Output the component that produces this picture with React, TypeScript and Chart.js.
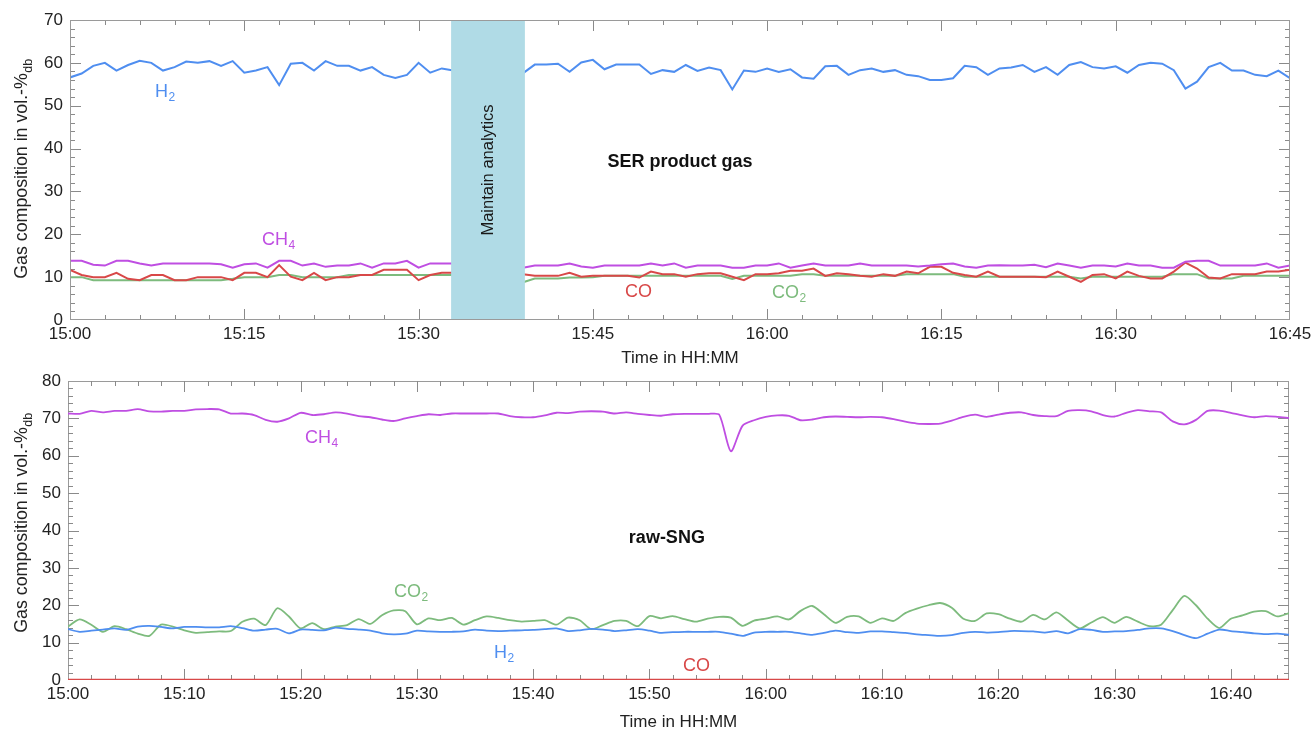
import React, { useEffect, useRef } from 'react';
import { Chart, registerables } from 'chart.js';

Chart.register(...registerables);

const FONT = '"Liberation Sans", Arial, Helvetica, sans-serif';

// ---------- SER product gas (top), one value per minute from 15:00 (index = minutes after 15:00) ----------
const topH2 = [
  56.6, 57.5, 59.3, 60.0, 58.2, 59.5, 60.5, 60.0, 58.2, 59.0,
  60.3, 60.0, 60.4, 59.3, 60.4, 57.7, 58.2, 59.0, 54.8, 59.8,
  60.0, 58.2, 60.4, 59.3, 59.3, 58.2, 59.0, 57.2, 56.5, 57.2,
  60.0, 57.7, 58.7, 58.2, null, null, null, null, null, 57.6,
  59.6, 59.6, 59.8, 57.9, 60.1, 60.7, 58.5, 59.6, 59.6, 59.6,
  57.4, 58.3, 57.9, 59.5, 58.1, 58.9, 58.3, 53.8, 58.2, 57.9,
  58.7, 57.9, 58.5, 56.6, 56.3, 59.2, 59.3, 57.2, 58.3, 58.7,
  57.9, 58.3, 57.2, 56.9, 56.0, 56.0, 56.4, 59.3, 59.0, 57.2,
  58.7, 58.9, 59.5, 57.9, 59.0, 57.2, 59.5, 60.2, 59.0, 58.7,
  59.2, 57.7, 59.5, 60.0, 59.8, 58.3, 54.0, 55.6, 59.0, 60.0,
  58.2, 58.2, 57.2, 56.9, 58.2, 56.4,
];
const topCH4 = [
  13.8, 13.8, 12.9, 12.7, 13.8, 13.8, 13.2, 12.7, 13.2, 13.2,
  13.2, 13.2, 13.2, 13.0, 12.2, 13.0, 13.2, 12.2, 13.8, 13.8,
  12.7, 13.2, 12.4, 12.7, 12.7, 13.2, 12.2, 13.2, 13.2, 13.8,
  12.2, 13.2, 13.2, 13.2, null, null, null, null, null, 12.2,
  12.7, 12.7, 12.7, 13.2, 12.5, 12.2, 12.7, 12.7, 12.7, 12.7,
  13.2, 12.7, 13.2, 12.2, 12.7, 12.7, 12.7, 12.2, 12.2, 12.7,
  12.7, 13.2, 12.2, 12.7, 13.2, 12.7, 12.7, 12.7, 13.2, 12.7,
  12.7, 12.7, 12.7, 12.5, 12.7, 13.0, 13.2, 12.5, 12.2, 12.7,
  12.8, 12.7, 12.7, 12.9, 12.3, 13.2, 12.7, 12.2, 12.7, 12.7,
  12.5, 13.2, 12.7, 12.7, 12.2, 12.2, 13.6, 13.8, 13.8, 12.7,
  12.7, 12.7, 12.7, 13.2, 12.2, 12.7,
];
const topCO = [
  11.7, 10.5, 10.0, 10.0, 11.0, 9.6, 9.3, 10.5, 10.5, 9.3,
  9.3, 10.0, 10.0, 10.0, 9.3, 11.0, 11.0, 10.0, 12.8, 10.1,
  9.3, 11.0, 9.3, 10.0, 10.0, 10.5, 10.5, 11.7, 11.7, 11.7,
  9.3, 10.5, 11.0, 11.0, null, null, null, null, null, 10.7,
  10.3, 10.3, 10.3, 11.0, 10.1, 10.3, 10.3, 10.3, 10.3, 9.9,
  11.3, 10.7, 10.7, 10.1, 10.7, 10.9, 10.9, 10.1, 9.3, 10.7,
  10.7, 10.9, 11.5, 11.5, 12.0, 10.3, 10.9, 10.7, 10.3, 10.1,
  10.7, 10.3, 11.3, 10.9, 12.4, 12.4, 11.0, 10.5, 10.1, 11.3,
  10.1, 10.1, 10.1, 10.1, 10.0, 11.3, 10.1, 8.9, 10.5, 10.7,
  9.7, 11.3, 10.3, 9.7, 9.7, 11.3, 13.4, 12.0, 9.9, 9.7,
  10.7, 10.7, 10.7, 11.3, 11.3, 11.7,
];
const topCO2 = [
  10.0, 10.0, 9.3, 9.3, 9.3, 9.3, 9.3, 9.3, 9.3, 9.3,
  9.3, 9.3, 9.3, 9.3, 9.6, 10.0, 10.0, 10.0, 10.5, 10.5,
  10.0, 10.0, 10.0, 10.0, 10.5, 10.5, 10.5, 10.5, 10.5, 10.5,
  10.5, 10.5, 10.5, 10.5, null, null, null, null, null, 8.8,
  9.7, 9.7, 9.7, 9.9, 9.9, 10.0, 10.3, 10.3, 10.3, 10.3,
  10.3, 10.3, 10.3, 10.3, 10.3, 10.3, 10.3, 9.6, 10.3, 10.3,
  10.3, 10.3, 10.3, 10.7, 10.7, 10.3, 10.3, 10.3, 10.3, 10.3,
  10.3, 10.3, 10.7, 10.7, 10.7, 10.7, 10.7, 10.1, 10.1, 10.1,
  10.1, 10.1, 10.1, 10.1, 10.1, 10.1, 10.1, 9.7, 10.1, 10.1,
  10.1, 10.1, 10.1, 10.1, 10.1, 10.7, 10.7, 10.7, 9.7, 9.7,
  9.7, 10.3, 10.3, 10.3, 10.3, 10.3,
];
// analytics maintenance window, minutes after 15:00
const maintenanceWindow = [32.8, 39.15];

// ---------- raw-SNG (bottom), one value per minute from 15:00 ----------
const botCH4 = [
  71.3, 71.2, 72.0, 71.6, 72.0, 72.0, 72.5, 71.9, 71.8, 72.0,
  72.0, 72.4, 72.5, 72.4, 71.3, 71.3, 70.9, 69.6, 69.1, 70.0,
  71.5, 70.9, 71.1, 71.6, 71.3, 70.6, 70.3, 69.7, 69.3, 70.0,
  70.6, 71.1, 70.9, 71.3, 71.3, 71.3, 71.3, 71.3, 70.6, 70.3,
  70.3, 70.8, 71.5, 71.4, 71.8, 71.9, 71.8, 71.3, 71.6, 71.2,
  70.9, 70.7, 71.1, 71.2, 71.2, 71.2, 71.0, 61.2, 68.0, 69.5,
  70.4, 70.8, 70.7, 69.5, 69.7, 70.3, 70.5, 70.4, 70.3, 70.4,
  70.3, 69.8, 69.1, 68.6, 68.5, 68.6, 69.4, 70.4, 71.0, 70.4,
  71.0, 71.5, 71.6, 70.9, 70.6, 70.6, 72.0, 72.2, 71.9, 70.9,
  70.5, 71.5, 72.2, 71.9, 71.6, 69.2, 68.4, 69.6, 72.0, 72.1,
  71.5, 70.8, 70.3, 70.6, 70.4, 70.1,
];
const botCO2 = [
  14.3, 16.2, 14.8, 12.9, 14.4, 13.6, 12.4, 11.8, 14.8, 14.3,
  13.3, 12.6, 12.8, 13.0, 13.1, 15.6, 16.4, 14.7, 19.2, 17.0,
  13.8, 15.2, 13.6, 14.3, 14.7, 16.3, 15.0, 17.3, 18.6, 18.4,
  14.9, 16.5, 16.0, 16.6, 14.8, 16.0, 17.0, 16.6, 16.0, 15.6,
  15.8, 16.0, 14.8, 16.7, 16.0, 13.6, 14.7, 15.8, 15.8, 14.4,
  17.1, 16.5, 17.1, 16.3, 15.6, 16.4, 16.9, 16.7, 14.5, 15.9,
  16.4, 17.0, 16.2, 18.5, 19.8, 17.6, 15.3, 16.9, 17.0, 15.3,
  16.5, 15.8, 17.9, 19.1, 20.0, 20.6, 19.3, 16.4, 15.8, 17.8,
  17.6, 16.4, 15.6, 17.4, 16.2, 18.1, 15.9, 13.8, 15.4, 16.8,
  15.3, 16.9, 15.6, 14.4, 14.8, 18.7, 22.5, 20.0, 16.4, 13.9,
  16.4, 17.3, 18.3, 18.4, 17.0, 17.9,
];
const botH2 = [
  13.6, 12.9, 13.2, 13.5, 13.8, 13.4, 14.3, 14.5, 14.2, 13.8,
  14.2, 14.2, 14.1, 14.1, 14.4, 13.9, 13.2, 13.5, 13.7, 12.5,
  13.5, 13.4, 13.3, 14.0, 13.7, 13.5, 13.2, 12.5, 12.2, 12.4,
  13.2, 13.0, 12.9, 12.9, 13.0, 13.5, 13.2, 13.1, 13.2, 13.3,
  13.4, 13.6, 13.8, 13.1, 13.3, 13.7, 13.5, 13.1, 13.3, 13.6,
  13.2, 12.6, 12.8, 12.9, 12.9, 12.9, 12.9, 12.4, 11.8, 12.7,
  12.9, 12.9, 12.9, 12.5, 12.1, 12.6, 13.2, 12.8, 12.6, 13.0,
  13.0, 12.8, 12.6, 12.2, 12.0, 11.8, 12.0, 12.6, 12.9, 12.7,
  12.8, 13.1, 13.1, 13.0, 12.7, 13.1, 12.5, 13.6, 13.4, 12.9,
  13.0, 13.1, 13.4, 13.8, 13.8, 13.1, 12.0, 11.2, 12.4, 13.5,
  13.1, 12.8, 12.5, 12.3, 12.4, 12.1,
];
const botCO = [
  0.1, 0.1, 0.1, 0.1, 0.1, 0.1, 0.1, 0.1, 0.1, 0.1,
  0.1, 0.1, 0.1, 0.1, 0.1, 0.1, 0.1, 0.1, 0.1, 0.1,
  0.1, 0.1, 0.1, 0.1, 0.1, 0.1, 0.1, 0.1, 0.1, 0.1,
  0.1, 0.1, 0.1, 0.1, 0.1, 0.1, 0.1, 0.1, 0.1, 0.1,
  0.1, 0.1, 0.1, 0.1, 0.1, 0.1, 0.1, 0.1, 0.1, 0.1,
  0.1, 0.1, 0.1, 0.1, 0.1, 0.1, 0.1, 0.1, 0.1, 0.1,
  0.1, 0.1, 0.1, 0.1, 0.1, 0.1, 0.1, 0.1, 0.1, 0.1,
  0.1, 0.1, 0.1, 0.1, 0.1, 0.1, 0.1, 0.1, 0.1, 0.1,
  0.1, 0.1, 0.1, 0.1, 0.1, 0.1, 0.1, 0.1, 0.1, 0.1,
  0.1, 0.1, 0.1, 0.1, 0.1, 0.1, 0.1, 0.1, 0.1, 0.1,
  0.1, 0.1, 0.1, 0.1, 0.1, 0.1,
];

const COLORS = { H2: '#4f8ef0', CH4: '#bf4ee2', CO: '#d84848', CO2: '#7dbb7d' };

type Label = { main: string; sub?: string; t: number; v: number; color: string };

type Spec = {
  series: { label: string; values: (number | null)[]; color: string }[];
  yMax: number;
  xMajor: number; xMinor: number; yMajor: number; yMinor: number;
  padTop: number; padRight: number; yAxisWidth: number; xAxisHeight: number;
  tension: number; lineWidth: number;
  labels: Label[];
  title: { text: string; t: number; v: number };
  band?: { from: number; to: number; text: string };
  yTitleCenter: number; xTitleBaseline: number;
};

function fmtTime(v: number) {
  const m = 15 * 60 + Math.round(v);
  return `${Math.floor(m / 60)}:${String(m % 60).padStart(2, '0')}`;
}

function drawFrame(ctx: CanvasRenderingContext2D, a: any) {
  ctx.save();
  ctx.strokeStyle = '#9a9a9a';
  ctx.lineWidth = 1;
  ctx.strokeRect(Math.round(a.left) + 0.5, Math.round(a.top) + 0.5, Math.round(a.right - a.left) - 1, Math.round(a.bottom - a.top) - 1);
  ctx.restore();
}

function drawTicks(chart: any, s: Spec) {
  const { ctx, chartArea: a, scales } = chart;
  const xs = scales.x, ys = scales.y;
  ctx.save();
  ctx.strokeStyle = '#8a8a8a';
  ctx.lineWidth = 1;
  ctx.beginPath();
  const xr = s.xMajor / s.xMinor;
  for (let i = 1; i * s.xMinor < 105; i++) {
    const px = Math.round(xs.getPixelForValue(i * s.xMinor)) + 0.5;
    const len = i % xr === 0 ? 11 : 5;
    ctx.moveTo(px, a.bottom); ctx.lineTo(px, a.bottom - len);
    ctx.moveTo(px, a.top); ctx.lineTo(px, a.top + len);
  }
  const yr = s.yMajor / s.yMinor;
  for (let i = 1; i * s.yMinor < s.yMax; i++) {
    const py = Math.round(ys.getPixelForValue(i * s.yMinor)) + 0.5;
    const len = i % yr === 0 ? 11 : 5;
    ctx.moveTo(a.left, py); ctx.lineTo(a.left + len, py);
    ctx.moveTo(a.right, py); ctx.lineTo(a.right - len, py);
  }
  ctx.stroke();
  ctx.restore();
}

function drawChem(ctx: CanvasRenderingContext2D, l: Label, px: number, py: number) {
  ctx.fillStyle = l.color;
  ctx.textAlign = 'left';
  ctx.textBaseline = 'alphabetic';
  ctx.font = `18px ${FONT}`;
  ctx.fillText(l.main, px, py);
  if (l.sub) {
    const w = ctx.measureText(l.main).width;
    ctx.font = `12px ${FONT}`;
    ctx.fillText(l.sub, px + w + 0.5, py + 4);
  }
}

function makeDeco(s: Spec) {
  return {
    id: 'deco',
    beforeDatasetsDraw(chart: any) {
      drawFrame(chart.ctx, chart.chartArea);
      drawTicks(chart, s);
    },
    afterDatasetsDraw(chart: any) {
      const { ctx, chartArea: a, scales } = chart;
      const xs = scales.x, ys = scales.y;
      ctx.save();
      if (s.band) {
        const x0 = xs.getPixelForValue(s.band.from);
        const x1 = xs.getPixelForValue(s.band.to);
        ctx.fillStyle = '#b0dbe6';
        ctx.fillRect(x0, a.top, x1 - x0, a.bottom - a.top);
        drawFrame(ctx, a);
        ctx.save();
        ctx.translate((x0 + x1) / 2, (a.top + a.bottom) / 2);
        ctx.rotate(-Math.PI / 2);
        ctx.fillStyle = '#1a1a1a';
        ctx.font = `16.5px ${FONT}`;
        ctx.textAlign = 'center';
        ctx.textBaseline = 'middle';
        ctx.fillText(s.band.text, 0, 0);
        ctx.restore();
      }
      for (const l of s.labels) {
        drawChem(ctx, l, xs.getPixelForValue(l.t), ys.getPixelForValue(l.v));
      }
      // panel title
      ctx.fillStyle = '#111';
      ctx.font = `bold 18px ${FONT}`;
      ctx.textAlign = 'center';
      ctx.textBaseline = 'alphabetic';
      ctx.fillText(s.title.text, xs.getPixelForValue(s.title.t), ys.getPixelForValue(s.title.v));
      // x axis title
      ctx.fillStyle = '#222';
      ctx.font = `17px ${FONT}`;
      ctx.fillText('Time in HH:MM', (a.left + a.right) / 2, s.xTitleBaseline);
      // y axis title with subscript
      ctx.save();
      ctx.translate(27, s.yTitleCenter);
      ctx.rotate(-Math.PI / 2);
      const main = 'Gas composition in vol.-%';
      ctx.font = `17.8px ${FONT}`;
      const w1 = ctx.measureText(main).width;
      ctx.font = `12.5px ${FONT}`;
      const w2 = ctx.measureText('db').width;
      const start = -(w1 + w2) / 2;
      ctx.textAlign = 'left';
      ctx.font = `17.8px ${FONT}`;
      ctx.fillText(main, start, 0);
      ctx.font = `12.5px ${FONT}`;
      ctx.fillText('db', start + w1 + 0.5, 5);
      ctx.restore();
      ctx.restore();
    },
  };
}

function buildConfig(s: Spec): any {
  return {
    type: 'line',
    data: {
      datasets: s.series.map((se) => ({
        label: se.label,
        data: se.values.map((y, i) => ({ x: i, y })),
        borderColor: se.color,
        backgroundColor: se.color,
        borderWidth: s.lineWidth,
        pointRadius: 0,
        tension: s.tension,
        spanGaps: false,
        fill: false,
      })),
    },
    options: {
      responsive: false,
      animation: false,
      devicePixelRatio: 1,
      events: [],
      layout: { padding: { top: s.padTop, right: s.padRight, left: 0, bottom: 0 } },
      plugins: { legend: { display: false }, tooltip: { enabled: false }, title: { display: false } },
      scales: {
        x: {
          type: 'linear', min: 0, max: 105,
          grid: { display: false, drawTicks: false },
          border: { display: false },
          ticks: {
            stepSize: s.xMajor, includeBounds: false, autoSkip: false, maxRotation: 0, minRotation: 0,
            padding: 4, color: '#222', font: { size: 17, family: FONT },
            callback: (v: any) => (Number(v) % s.xMajor === 0 ? fmtTime(Number(v)) : ''),
          },
          afterFit: (sc: any) => { sc.height = s.xAxisHeight; sc.paddingLeft = 0; sc.paddingRight = 0; },
        },
        y: {
          min: 0, max: s.yMax,
          grid: { display: false, drawTicks: false },
          border: { display: false },
          ticks: { stepSize: s.yMajor, padding: 7, color: '#222', font: { size: 17, family: FONT } },
          afterFit: (sc: any) => { sc.width = s.yAxisWidth; sc.paddingTop = 0; sc.paddingBottom = 0; },
        },
      },
    },
    plugins: [makeDeco(s)],
  };
}

const topSpec: Spec = {
  series: [
    { label: 'H2', values: topH2, color: COLORS.H2 },
    { label: 'CH4', values: topCH4, color: COLORS.CH4 },
    { label: 'CO', values: topCO, color: COLORS.CO },
    { label: 'CO2', values: topCO2, color: COLORS.CO2 },
  ],
  yMax: 70, xMajor: 15, xMinor: 3, yMajor: 10, yMinor: 2,
  padTop: 20, padRight: 22, yAxisWidth: 70, xAxisHeight: 45,
  tension: 0, lineWidth: 2,
  labels: [
    { main: 'H', sub: '2', t: 7.32, v: 52.0, color: COLORS.H2 },
    { main: 'CH', sub: '4', t: 16.52, v: 17.5, color: COLORS.CH4 },
    { main: 'CO', t: 47.77, v: 5.37, color: COLORS.CO },
    { main: 'CO', sub: '2', t: 60.42, v: 5.13, color: COLORS.CO2 },
  ],
  title: { text: 'SER product gas', t: 52.5, v: 35.7 },
  band: { from: maintenanceWindow[0], to: maintenanceWindow[1], text: 'Maintain analytics' },
  yTitleCenter: 169, xTitleBaseline: 363,
};

const botSpec: Spec = {
  series: [
    { label: 'CO', values: botCO, color: COLORS.CO },
    { label: 'H2', values: botH2, color: COLORS.H2 },
    { label: 'CH4', values: botCH4, color: COLORS.CH4 },
    { label: 'CO2', values: botCO2, color: COLORS.CO2 },
  ],
  yMax: 80, xMajor: 10, xMinor: 2, yMajor: 10, yMinor: 2,
  padTop: 16, padRight: 23, yAxisWidth: 68, xAxisHeight: 49,
  tension: 0.25, lineWidth: 1.8,
  labels: [
    { main: 'CH', sub: '4', t: 20.38, v: 63.4, color: COLORS.CH4 },
    { main: 'CO', sub: '2', t: 28.03, v: 22.2, color: COLORS.CO2 },
    { main: 'H', sub: '2', t: 36.63, v: 5.89, color: COLORS.H2 },
    { main: 'CO', t: 52.88, v: 2.41, color: COLORS.CO },
  ],
  title: { text: 'raw-SNG', t: 51.5, v: 36.65 },
  yTitleCenter: 158, xTitleBaseline: 362,
};

export default function App() {
  const topRef = useRef<HTMLCanvasElement>(null);
  const botRef = useRef<HTMLCanvasElement>(null);
  useEffect(() => {
    Chart.defaults.font.family = FONT;
    const c1 = new Chart(topRef.current as HTMLCanvasElement, buildConfig(topSpec));
    const c2 = new Chart(botRef.current as HTMLCanvasElement, buildConfig(botSpec));
    return () => { c1.destroy(); c2.destroy(); };
  }, []);
  return (
    <div style={{ position: 'fixed', left: 0, top: 0, width: 1312, height: 729, background: '#fff' }}>
      <canvas ref={topRef} width={1312} height={365} style={{ position: 'absolute', left: 0, top: 0, width: 1312, height: 365 }} />
      <canvas ref={botRef} width={1312} height={364} style={{ position: 'absolute', left: 0, top: 365, width: 1312, height: 364 }} />
    </div>
  );
}
